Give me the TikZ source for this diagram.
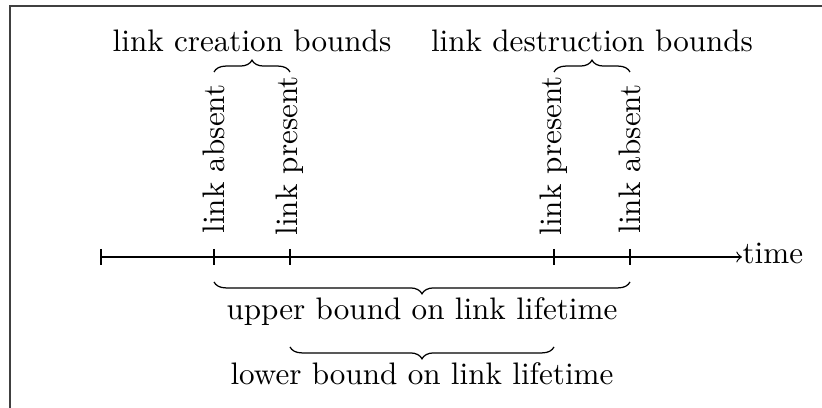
\documentclass[tikz,border=0pt]{standalone}
\usetikzlibrary{decorations.pathreplacing}
\begin{document}
\begin{tikzpicture}[x=0.3215pt,y=-0.3215pt,
  tickmark/.style={line width=0.4pt},
  bracedeco/.style={decorate,decoration={brace,amplitude=3.8pt}},
  vlabel/.style={rotate=90,anchor=west,inner sep=0pt},
  blabel/.style={anchor=base,inner sep=0pt}]
\useasboundingbox (0,0) rectangle (822,408);
\begin{scope}
\clip (0,0) rectangle (822,408);
\draw[line width=0.5pt,black!75] (10,6) rectangle (840,430);
\end{scope}
% axis points
\coordinate (s) at (101,257);
\coordinate (a) at (214,257);
\coordinate (b) at (290,257);
\coordinate (c) at (554,257);
\coordinate (d) at (630,257);
\coordinate (e) at (742,257);
\draw[->] (s) -- (e) node[anchor=base west,inner sep=0pt,yshift=-2.2pt] (time) {time};
\foreach \p in {s,a,b,c,d}
  \draw[tickmark] ([yshift=2.6pt]\p) -- ([yshift=-2.6pt]\p);
% vertical labels
\node[vlabel] (la1) at (214,234) {link absent};
\node[vlabel] (lp1) at (290,236) {link present};
\node[vlabel] (lp2) at (554,236) {link present};
\node[vlabel] (la2) at (630,234) {link absent};
% top braces
\coordinate (cb1) at (214,72);
\coordinate (cb2) at (290,72);
\coordinate (db1) at (554,72);
\coordinate (db2) at (630,72);
\draw[bracedeco] (cb1) -- (cb2);
\draw[bracedeco] (db1) -- (db2);
\node[blabel] (creation) at (252,52) {link creation bounds};
\node[blabel] (destruction) at (592,52) {link destruction bounds};
% bottom braces
\coordinate (ub1) at (630,282);
\coordinate (ub2) at (214,282);
\coordinate (lb1) at (554,347);
\coordinate (lb2) at (290,347);
\draw[bracedeco] (ub1) -- (ub2);
\draw[bracedeco] (lb1) -- (lb2);
\node[blabel] (upper) at (422,320) {upper bound on link lifetime};
\node[blabel] (lower) at (422,385) {lower bound on link lifetime};
\end{tikzpicture}
\end{document}
